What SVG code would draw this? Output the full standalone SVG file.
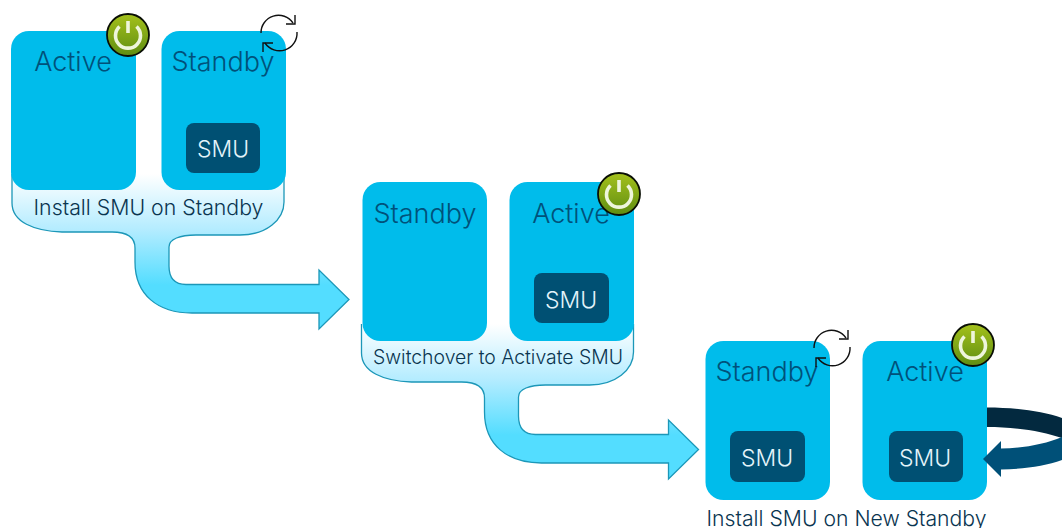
<svg xmlns="http://www.w3.org/2000/svg" width="1062" height="528" viewBox="0 0 1062 528">
<style>
.box{fill:#00bceb}
.smu{fill:#005073}
.flow{fill:url(#flowGrad);stroke:#1c97b8;stroke-width:1.3}
text{font-family:"Inter","Liberation Sans",sans-serif}
.title{font-size:27px;font-weight:300;fill:#00517a;text-anchor:middle}
.smuT{font-size:23px;font-weight:300;fill:#e4f4fa;text-anchor:middle}
.cap{font-weight:300;fill:#0a3550;text-anchor:middle}
.sync{fill:none;stroke:#111;stroke-width:1.4}
</style>
<defs>
<linearGradient id="flowGrad" gradientUnits="userSpaceOnUse" x1="0" y1="174" x2="0" y2="285">
<stop offset="0" stop-color="#fff"/><stop offset="0.5" stop-color="#b4ecff"/><stop offset="1" stop-color="#53ddff"/>
</linearGradient>
<linearGradient id="green" x1="0" y1="0" x2="0" y2="1">
<stop offset="0" stop-color="#a4c11c"/><stop offset="1" stop-color="#5f8d12"/>
</linearGradient>
<path id="flowShape" class="flow" d="M12 174V203C12 222 34 231 62 232H112C128 232 135 238 135 248V262C135 295 158 313 192 313H319V329L349 299.500L319 270V284.500H186C175 284.500 169 278 169 266V247C169 239 180 235 196 235H240C266 235 284 220 284 202V174"/>
<g id="power"><circle r="21" fill="url(#green)" stroke="#0a0f05" stroke-width="1.800"/><path d="M-8.500 -8.500A12.500 12.500 0 1 0 8.500 -8.500" fill="none" stroke="#eef5dc" stroke-width="3.600"/><path d="M0 -14V-2" stroke="#eef5dc" stroke-width="3.600"/></g>
<g id="syncIcon"><path class="sync" d="M-33 0A17.500 17.500 0 0 1 -1 -10"/><path class="sync" d="M1 -18V-9H-8"/><path class="sync" d="M3 -1A17.500 17.500 0 0 1 -29 10"/><path class="sync" d="M-31 19V10H-21"/></g>
</defs>
<g id="connectors">
<use href="#flowShape"/>
<use href="#flowShape" transform="translate(349.500 150)"/>
<path d="M987 407.500C1015 407.500 1042 411 1062 418V438C1042 431 1015 427 987 427Z" fill="#03293f"/>
</g>
<g id="active-1"><rect class="box" x="11" y="31" width="125" height="159" rx="18"/><text class="title" x="73" y="71">Active</text></g>
<g id="standby-1"><rect class="box" x="161.500" y="31" width="124.500" height="159" rx="18"/><text class="title" x="223" y="71">Standby</text><rect class="smu" x="186" y="123" width="74" height="50" rx="8"/><text class="smuT" x="223" y="157">SMU</text></g>
<use id="power-1" href="#power" transform="translate(128 35)"/>
<use id="sync-1" href="#syncIcon" transform="translate(294 33)"/>
<text class="cap" font-size="21.300" x="148.500" y="215">Install SMU on Standby</text>
<g id="standby-2"><rect class="box" x="362.500" y="182" width="124.500" height="159" rx="18"/><text class="title" x="425" y="223">Standby</text></g>
<g id="active-2"><rect class="box" x="509.500" y="182" width="124.500" height="159" rx="18"/><text class="title" x="571" y="223">Active</text><rect class="smu" x="534" y="273" width="75" height="50" rx="8"/><text class="smuT" x="571" y="308">SMU</text></g>
<use id="power-2" href="#power" transform="translate(619 194)"/>
<text class="cap" font-size="19.400" x="498" y="364">Switchover to Activate SMU</text>
<g id="standby-3"><rect class="box" x="705.500" y="341" width="124.500" height="159" rx="18"/><text class="title" x="767" y="381">Standby</text><rect class="smu" x="730" y="431" width="75" height="51" rx="8"/><text class="smuT" x="767" y="466">SMU</text></g>
<g id="active-3"><rect class="box" x="862.500" y="341" width="124.500" height="159" rx="18"/><text class="title" x="925" y="381">Active</text><rect class="smu" x="889" y="431" width="74" height="51" rx="8"/><text class="smuT" x="925" y="466">SMU</text></g>
<use id="power-3" href="#power" transform="translate(973 345)"/>
<use id="sync-3" href="#syncIcon" transform="translate(847 348)"/>
<g id="loop-arrow"><path d="M983 459L1001 441V448.500C1025 448 1045 444 1062 437V460C1045 466 1025 469 1001 469.500V477Z" fill="#005078"/></g>
<text class="cap" font-size="21.200" x="846.500" y="526">Install SMU on New Standby</text>
</svg>
